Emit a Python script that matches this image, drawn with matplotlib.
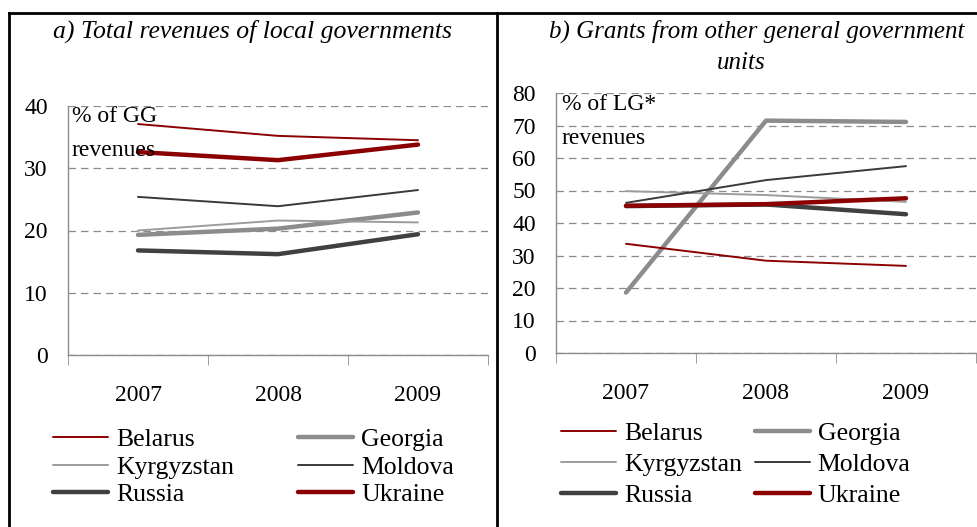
import matplotlib.pyplot as plt
from matplotlib.lines import Line2D

plt.rcParams['font.family'] = ['Liberation Serif', 'DejaVu Serif']

years = ['2007', '2008', '2009']
countries = ['Belarus', 'Georgia', 'Kyrgyzstan', 'Moldova', 'Russia', 'Ukraine']

# a) total revenues of local governments, % of GG revenues
rev_belarus = [37.1, 35.2, 34.5]
rev_georgia = [19.3, 20.3, 22.9]
rev_kyrgyzstan = [20.0, 21.6, 21.3]
rev_moldova = [25.4, 23.9, 26.5]
rev_russia = [16.8, 16.2, 19.4]
rev_ukraine = [32.6, 31.3, 33.8]

# b) grants from other GG units, % of LG revenues
gr_belarus = [33.6, 28.4, 26.8]
gr_georgia = [18.6, 71.5, 71.1]
gr_kyrgyzstan = [49.8, 48.6, 46.5]
gr_moldova = [46.2, 53.2, 57.5]
gr_russia = [45.2, 45.7, 42.7]
gr_ukraine = [45.3, 45.8, 47.6]

# colour, linewidth per country
styles = {
    'Belarus': ('#8b0000', 1.4),
    'Georgia': ('#8c8c8c', 3.2),
    'Kyrgyzstan': ('#9c9c9c', 1.4),
    'Moldova': ('#3a3a3a', 1.4),
    'Russia': ('#404040', 3.2),
    'Ukraine': ('#8b0000', 3.2),
}
# draw order (Georgia under the rest)
order = ['Georgia', 'Kyrgyzstan', 'Moldova', 'Belarus', 'Russia', 'Ukraine']
# legend is filled column by column -> this gives rows of two
leg_order = ['Belarus', 'Kyrgyzstan', 'Russia', 'Georgia', 'Moldova', 'Ukraine']

W, H = 978, 527
fig = plt.figure(figsize=(W / 100, H / 100), dpi=100)


def fx(x):
    return x / W


def fy(y):
    return 1 - y / H


def panel(rect, data, ymax, step, legend_at, colspace, labspace):
    ax = fig.add_axes(rect)
    x = range(len(years))
    for c in order:
        col, lw = styles[c]
        ax.plot(x, data[c], color=col, lw=lw, solid_capstyle='round',
                label=c, zorder=3)
    ax.set_xlim(-0.5, 2.5)
    ax.set_ylim(0, ymax)
    ax.set_yticks(range(0, ymax + 1, step))
    ax.set_xticks(list(x))
    ax.set_xticklabels(years)
    ax.set_xticks([-0.5, 0.5, 1.5, 2.5], minor=True)
    ax.tick_params(axis='x', which='major', length=0, pad=21.5, labelsize=17)
    ax.tick_params(axis='x', which='minor', length=7, color='#8c8c8c',
                   direction='out')
    ax.tick_params(axis='y', length=0, pad=14.5, labelsize=17)
    ax.grid(axis='y', color='#8c8c8c', ls=(0, (6, 4)), lw=0.9)
    ax.set_axisbelow(True)
    for s in ['top', 'right']:
        ax.spines[s].set_visible(False)
    for s in ['left', 'bottom']:
        ax.spines[s].set_color('#8c8c8c')
        ax.spines[s].set_linewidth(1.0)
    h, l = ax.get_legend_handles_labels()
    hm = dict(zip(l, h))
    fig.legend([hm[c] for c in leg_order], leg_order, ncol=2,
               loc='upper left', bbox_to_anchor=legend_at, frameon=False,
               fontsize=18.5, handlelength=2.15, handletextpad=0.3,
               columnspacing=colspace, labelspacing=labspace, borderpad=0,
               borderaxespad=0)
    return ax


data_a = dict(zip(countries, [rev_belarus, rev_georgia, rev_kyrgyzstan,
                              rev_moldova, rev_russia, rev_ukraine]))
data_b = dict(zip(countries, [gr_belarus, gr_georgia, gr_kyrgyzstan,
                              gr_moldova, gr_russia, gr_ukraine]))

panel([fx(68), fy(355), fx(420), (355 - 106) / H], data_a, 40, 10,
      (fx(53), fy(428)), 2.5, 0.18)
panel([fx(556), fy(353), fx(420), (353 - 93) / H], data_b, 80, 10,
      (fx(561), fy(422)), 0.5, 0.32)

# titles
fig.text(fx(253), fy(31), 'a) Total revenues of local governments',
         ha='center', va='center', fontsize=18.5, style='italic')
fig.text(fx(757), fy(31), 'b) Grants from other general government',
         ha='center', va='center', fontsize=18, style='italic')
fig.text(fx(741), fy(63), 'units', ha='center', va='center',
         fontsize=18, style='italic')

# unit notes
fig.text(fx(72), fy(116), '% of GG', ha='left', va='center', fontsize=17)
fig.text(fx(72), fy(151), 'revenues', ha='left', va='center', fontsize=17)
fig.text(fx(562), fy(105), '% of LG*', ha='left', va='center', fontsize=17)
fig.text(fx(562), fy(138), 'revenues', ha='left', va='center', fontsize=17)

# table frame
fig.add_artist(Line2D([fx(9), fx(9)], [0, fy(13)], color='black', lw=2))
fig.add_artist(Line2D([fx(9), 1], [fy(13), fy(13)], color='black', lw=2))
fig.add_artist(Line2D([fx(497), fx(497)], [0, fy(13)], color='black', lw=2))

fig.savefig('out.png', dpi=100)
